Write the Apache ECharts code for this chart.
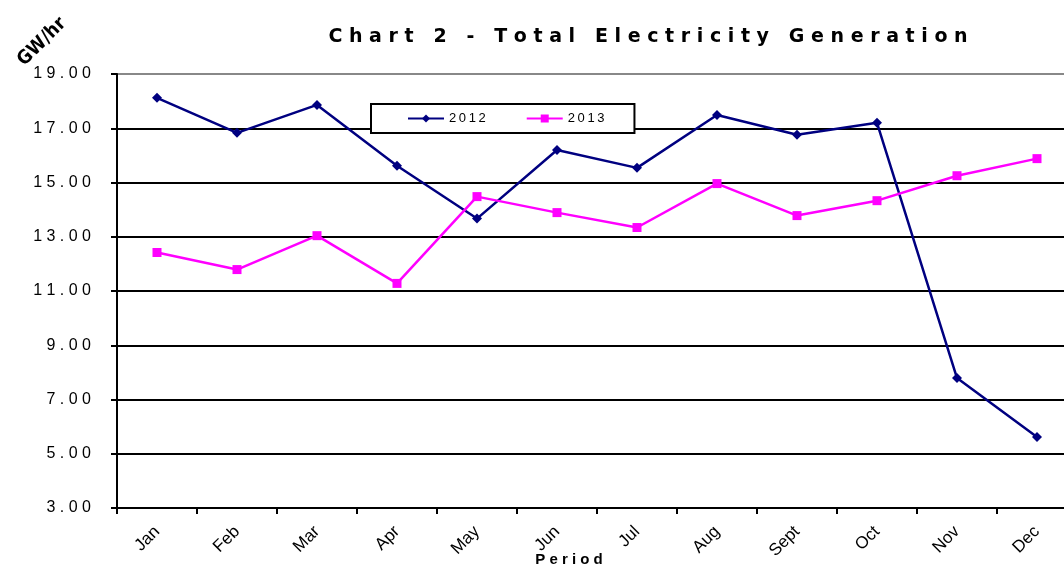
<!DOCTYPE html>
<html>
<head>
<meta charset="utf-8">
<script src="https://cdn.jsdelivr.net/npm/echarts@6/dist/echarts.min.js"></script>
<style>
  html, body { margin: 0; padding: 0; background: #fff; }
  #chart { width: 1064px; height: 565px; }
</style>
</head>
<body>
<div id="chart"></div>
<script>
const months = ['Jan', 'Feb', 'Mar', 'Apr', 'May', 'Jun', 'Jul', 'Aug', 'Sept', 'Oct', 'Nov', 'Dec']
const gen2012 = [18.12, 16.83, 17.86, 15.62, 13.67, 16.2, 15.54, 17.49, 16.76, 17.2, 7.79, 5.62]
const gen2013 = [12.42, 11.79, 13.04, 11.28, 14.48, 13.89, 13.34, 14.96, 13.78, 14.33, 15.25, 15.88]

// spread letters out like the original spaced-out type
const spaced = (s, sep) => s.split('').join(sep)

const chart = echarts.init(document.getElementById('chart'))
chart.setOption({
  animation: false,
  backgroundColor: '#fff',
  title: {
    text: spaced('Chart 2 - Total Electricity Generation', ' '),
    left: 643,
    textAlign: 'center',
    top: 23,
    textStyle: { fontFamily: 'DejaVu Sans', fontWeight: 'bold', fontSize: 19, color: '#000' }
  },
  graphic: [{
    type: 'text',
    x: 42,
    y: 42,
    rotation: Math.PI / 4,
    style: { text: 'GW/hr', font: 'bold 19px "DejaVu Sans Condensed"', fill: '#000', align: 'center', verticalAlign: 'middle' }
  }],
  legend: {
    left: 371,
    top: 104,
    width: 240,
    padding: [8, 30, 8, 36],
    itemGap: 40,
    itemWidth: 36,
    itemHeight: 10,
    borderColor: '#000',
    borderWidth: 2,
    backgroundColor: '#fff',
    textStyle: { fontFamily: 'Liberation Sans', fontSize: 13, color: '#000' },
    formatter: name => spaced(name, '\u2009'),
    data: ['2012', '2013']
  },
  grid: { left: 117, top: 74, width: 960, height: 434, outerBoundsMode: 'none', containLabel: false },
  xAxis: {
    type: 'category',
    data: months,
    boundaryGap: true,
    name: spaced('Period', ' '),
    nameLocation: 'middle',
    nameGap: 44,
    nameMoveOverlap: false,
    nameTextStyle: { fontFamily: 'Liberation Sans', fontWeight: 'bold', fontSize: 15, color: '#000', padding: [0, 0, 0, -56] },
    axisLine: { lineStyle: { color: '#000', width: 2 } },
    axisTick: { show: true, length: 6, lineStyle: { color: '#000', width: 2 } },
    axisLabel: { rotate: 45, margin: 21, fontFamily: 'Liberation Sans', fontSize: 17, color: '#000' }
  },
  yAxis: {
    type: 'value',
    min: 3,
    max: 19,
    interval: 2,
    axisLine: { show: true, lineStyle: { color: '#000', width: 2 } },
    axisTick: { show: true, length: 6, lineStyle: { color: '#000', width: 2 } },
    axisLabel: {
      margin: 26,
      fontFamily: 'Liberation Sans',
      fontSize: 16,
      color: '#000',
      formatter: v => spaced(v.toFixed(2), ' ')
    },
    splitLine: {
      lineStyle: {
        color: ['#000', '#000', '#000', '#000', '#000', '#000', '#000', '#000', '#888'],
        width: 2
      }
    }
  },
  series: [
    {
      name: '2012',
      type: 'line',
      data: gen2012,
      symbol: 'diamond',
      symbolSize: 10,
      color: '#000080',
      lineStyle: { color: '#000080', width: 2.5 },
      itemStyle: { color: '#000080' }
    },
    {
      name: '2013',
      type: 'line',
      data: gen2013,
      symbol: 'rect',
      symbolSize: 9,
      color: '#ff00ff',
      lineStyle: { color: '#ff00ff', width: 2.5 },
      itemStyle: { color: '#ff00ff' }
    }
  ]
})
</script>
</body>
</html>
